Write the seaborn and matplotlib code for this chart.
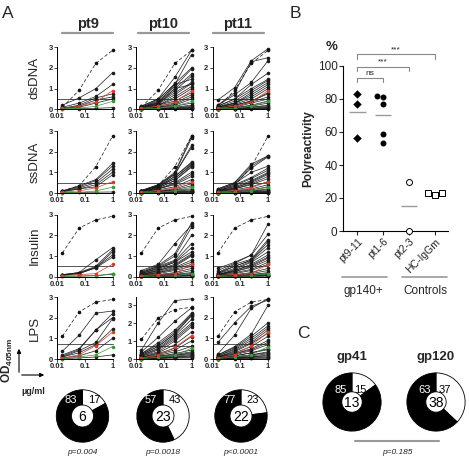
import numpy as np
import pandas as pd
import seaborn as sns

import matplotlib

matplotlib.use("Agg")
import matplotlib.pyplot as plt
from matplotlib.ticker import NullLocator

sns.set_style("ticks")
plt.rcParams["font.family"] = ["Liberation Sans", "DejaVu Sans"]
plt.rcParams["mathtext.fontset"] = "custom"
plt.rcParams["mathtext.rm"] = "Liberation Sans"
plt.rcParams["mathtext.bf"] = "Liberation Sans:bold"

W, H, DPI = 469, 459, 100

# ---- panel A: ELISA curves (OD405nm vs ug/ml) ----
CONC = [1 / 64, 1 / 16, 1 / 4, 1]
PATIENTS = ["pt9", "pt10", "pt11"]
ANTIGENS = ["dsDNA", "ssDNA", "Insulin", "LPS"]
CUTOFFS = [0.5, 0.5, 0.5, 0.75]
CTRL_NAMES = ["ED38", "eiJB40", "mGO53"]

# controls: ED38 (high positive), eiJB40 (low positive), mGO53 (negative)
DSDNA_CTRL = [[0.1, 0.92, 2.22, 2.85], [0.05, 0.15, 0.35, 0.9], [0.02, 0.05, 0.15, 0.38]]
SSDNA_CTRL = [[0.1, 0.35, 1.27, 2.75], [0.05, 0.1, 0.25, 0.55], [0.02, 0.03, 0.1, 0.28]]
INSULIN_CTRL = [[1.15, 2.35, 2.75, 2.92], [0.05, 0.1, 0.15, 0.6], [0.02, 0.03, 0.05, 0.15]]
LPS_CTRL = [[1.1, 2.28, 2.75, 2.88], [0.05, 0.2, 0.65, 1.3], [0.02, 0.1, 0.2, 0.6]]

DSDNA_PT9 = [[0.2, 0.55, 1.0, 1.77], [0.1, 0.3, 0.62, 1.2], [0.05, 0.2, 0.55, 0.75],
             [0.05, 0.15, 0.45, 0.6], [0.05, 0.1, 0.3, 0.5], [0.02, 0.03, 0.05, 0.08]]
DSDNA_PT10 = [[0.15, 0.5, 1.55, 2.85], [0.15, 0.5, 1.2, 2.65], [0.1, 0.45, 1.25, 2.0],
              [0.1, 0.4, 1.1, 1.95], [0.1, 0.35, 1.0, 1.7], [0.1, 0.3, 0.9, 1.6],
              [0.1, 0.3, 1.2, 1.45], [0.1, 0.3, 0.8, 1.3], [0.08, 0.25, 0.7, 1.25],
              [0.08, 0.25, 1.0, 1.2], [0.05, 0.2, 0.6, 1.1], [0.05, 0.2, 0.5, 1.0],
              [0.05, 0.2, 0.4, 0.8], [0.05, 0.15, 0.3, 0.7], [0.05, 0.1, 0.25, 0.6],
              [0.03, 0.1, 0.2, 0.5], [0.03, 0.08, 0.15, 0.3], [0.02, 0.05, 0.1, 0.2],
              [0.02, 0.04, 0.08, 0.15], [0.02, 0.04, 0.06, 0.1], [0.02, 0.03, 0.05, 0.08],
              [0.02, 0.03, 0.04, 0.05], [0.01, 0.02, 0.03, 0.03]]
DSDNA_PT11 = [[0.45, 1.05, 2.35, 2.93], [0.2, 0.8, 2.3, 2.5], [0.2, 0.7, 1.3, 2.35],
              [0.15, 0.5, 1.2, 1.75], [0.15, 0.5, 1.0, 1.45], [0.1, 0.4, 0.9, 1.4],
              [0.1, 0.3, 0.8, 1.3], [0.1, 0.3, 0.7, 1.2], [0.1, 0.3, 0.6, 1.1],
              [0.08, 0.25, 0.5, 1.0], [0.05, 0.2, 0.4, 0.8], [0.05, 0.2, 0.4, 0.75],
              [0.05, 0.15, 0.35, 0.6], [0.05, 0.1, 0.3, 0.5], [0.03, 0.08, 0.2, 0.4],
              [0.03, 0.08, 0.15, 0.3], [0.02, 0.05, 0.1, 0.2], [0.02, 0.05, 0.1, 0.15],
              [0.02, 0.03, 0.06, 0.1], [0.02, 0.03, 0.05, 0.08], [0.02, 0.03, 0.04, 0.05],
              [0.01, 0.02, 0.03, 0.03]]

SSDNA_PT9 = [[0.1, 0.35, 0.65, 1.43], [0.1, 0.3, 0.6, 1.3], [0.1, 0.25, 0.5, 1.15],
             [0.08, 0.2, 0.4, 1.0], [0.05, 0.2, 0.3, 0.88], [0.02, 0.03, 0.04, 0.05]]
SSDNA_PT10 = [[0.12, 0.4, 1.0, 2.75], [0.12, 0.4, 0.95, 2.65], [0.1, 0.35, 0.9, 2.3],
              [0.1, 0.35, 0.9, 2.2], [0.1, 0.3, 0.8, 1.5], [0.1, 0.3, 0.8, 1.45],
              [0.1, 0.3, 0.7, 1.4], [0.08, 0.3, 0.7, 1.35], [0.08, 0.25, 0.6, 1.3],
              [0.08, 0.25, 0.6, 1.25], [0.08, 0.2, 0.5, 1.0], [0.05, 0.2, 0.45, 0.9],
              [0.05, 0.2, 0.4, 0.8], [0.05, 0.15, 0.3, 0.65], [0.05, 0.1, 0.2, 0.45],
              [0.03, 0.08, 0.15, 0.35], [0.03, 0.08, 0.15, 0.2], [0.02, 0.05, 0.1, 0.15],
              [0.02, 0.04, 0.08, 0.1], [0.02, 0.03, 0.06, 0.08], [0.02, 0.03, 0.04, 0.05],
              [0.01, 0.02, 0.03, 0.04], [0.01, 0.02, 0.02, 0.03]]
SSDNA_PT11 = [[0.2, 0.5, 1.4, 1.8], [0.2, 0.5, 1.3, 1.78], [0.15, 0.45, 1.2, 1.75],
              [0.15, 0.45, 1.0, 1.3], [0.1, 0.4, 0.75, 1.2], [0.1, 0.35, 0.7, 1.1],
              [0.1, 0.3, 0.6, 1.0], [0.08, 0.25, 0.55, 0.95], [0.08, 0.25, 0.5, 0.9],
              [0.08, 0.2, 0.45, 0.8], [0.05, 0.2, 0.4, 0.7], [0.05, 0.15, 0.3, 0.55],
              [0.05, 0.1, 0.2, 0.4], [0.03, 0.08, 0.15, 0.3], [0.03, 0.06, 0.1, 0.2],
              [0.02, 0.05, 0.1, 0.15], [0.02, 0.04, 0.08, 0.1], [0.02, 0.03, 0.06, 0.08],
              [0.02, 0.03, 0.04, 0.05], [0.01, 0.02, 0.03, 0.04], [0.01, 0.02, 0.03, 0.03],
              [0.01, 0.01, 0.02, 0.02]]

INSULIN_PT9 = [[0.1, 0.2, 0.82, 1.4], [0.1, 0.2, 0.5, 1.3], [0.08, 0.18, 0.45, 1.2],
               [0.08, 0.15, 0.45, 1.05], [0.06, 0.15, 0.42, 0.95], [0.02, 0.03, 0.05, 0.12]]
INSULIN_PT10 = [[0.3, 0.6, 1.6, 2.5], [0.25, 0.55, 1.1, 2.6], [0.2, 0.5, 1.0, 2.4],
                [0.2, 0.5, 0.8, 2.0], [0.15, 0.45, 0.75, 1.6], [0.15, 0.4, 0.7, 1.4],
                [0.15, 0.4, 0.7, 1.2], [0.1, 0.35, 0.6, 1.1], [0.1, 0.3, 0.55, 1.05],
                [0.1, 0.3, 0.5, 1.0], [0.08, 0.25, 0.45, 0.8], [0.08, 0.2, 0.4, 0.7],
                [0.05, 0.2, 0.35, 0.6], [0.05, 0.15, 0.3, 0.5], [0.05, 0.1, 0.2, 0.4],
                [0.05, 0.1, 0.15, 0.3], [0.03, 0.08, 0.12, 0.2], [0.02, 0.05, 0.1, 0.15],
                [0.02, 0.04, 0.08, 0.1], [0.02, 0.03, 0.06, 0.08], [0.02, 0.03, 0.04, 0.05],
                [0.01, 0.02, 0.03, 0.04], [0.01, 0.02, 0.02, 0.03]]
INSULIN_PT11 = [[0.4, 0.7, 1.05, 2.55], [0.3, 0.65, 1.05, 2.05], [0.2, 0.6, 0.85, 1.8],
                [0.2, 0.5, 0.8, 1.7], [0.15, 0.5, 0.8, 1.55], [0.15, 0.4, 0.75, 1.4],
                [0.1, 0.35, 0.7, 1.2], [0.1, 0.3, 0.6, 1.05], [0.1, 0.3, 0.55, 0.95],
                [0.08, 0.25, 0.5, 0.9], [0.08, 0.25, 0.45, 0.8], [0.05, 0.2, 0.35, 0.7],
                [0.05, 0.15, 0.3, 0.6], [0.05, 0.1, 0.2, 0.4], [0.03, 0.08, 0.15, 0.3],
                [0.03, 0.06, 0.1, 0.2], [0.02, 0.05, 0.1, 0.15], [0.02, 0.04, 0.08, 0.1],
                [0.02, 0.03, 0.06, 0.08], [0.02, 0.03, 0.04, 0.05], [0.01, 0.02, 0.03, 0.04],
                [0.01, 0.02, 0.02, 0.03]]

LPS_PT9 = [[0.38, 1.15, 2.22, 2.32], [0.2, 0.5, 1.4, 2.2], [0.15, 0.45, 1.4, 2.0],
           [0.1, 0.4, 0.8, 1.95], [0.1, 0.3, 0.7, 1.45], [0.05, 0.15, 0.4, 1.0],
           [0.02, 0.05, 0.1, 0.2]]
LPS_PT10 = [[0.5, 2.0, 3.25, 3.35], [0.4, 1.2, 2.1, 2.85], [0.3, 0.9, 1.6, 2.55],
            [0.3, 0.8, 1.5, 2.5], [0.25, 0.7, 1.4, 2.45], [0.25, 0.7, 1.4, 2.4],
            [0.2, 0.6, 1.3, 2.2], [0.2, 0.55, 1.2, 2.0], [0.15, 0.5, 1.1, 1.9],
            [0.15, 0.4, 1.0, 1.8], [0.1, 0.35, 0.8, 1.5], [0.1, 0.3, 0.6, 1.25],
            [0.08, 0.25, 0.5, 1.0], [0.05, 0.2, 0.4, 0.7], [0.05, 0.15, 0.3, 0.5],
            [0.05, 0.15, 0.25, 0.4], [0.03, 0.1, 0.2, 0.35], [0.03, 0.1, 0.2, 0.3],
            [0.02, 0.08, 0.15, 0.25], [0.02, 0.05, 0.1, 0.2], [0.02, 0.05, 0.1, 0.15],
            [0.02, 0.04, 0.08, 0.1], [0.01, 0.03, 0.05, 0.06]]
LPS_PT11 = [[0.8, 1.75, 2.55, 2.85], [0.25, 1.15, 2.45, 2.92], [0.2, 0.6, 1.2, 2.6],
            [0.2, 0.55, 1.1, 1.75], [0.15, 0.5, 1.0, 1.6], [0.15, 0.45, 0.9, 1.5],
            [0.1, 0.4, 0.8, 1.4], [0.1, 0.35, 0.75, 1.25], [0.1, 0.3, 0.6, 1.1],
            [0.08, 0.25, 0.5, 0.9], [0.08, 0.25, 0.45, 0.8], [0.05, 0.2, 0.4, 0.7],
            [0.05, 0.15, 0.3, 0.5], [0.05, 0.15, 0.3, 0.45], [0.03, 0.1, 0.2, 0.35],
            [0.03, 0.1, 0.2, 0.3], [0.02, 0.08, 0.15, 0.25], [0.02, 0.05, 0.1, 0.2],
            [0.02, 0.05, 0.1, 0.15], [0.02, 0.04, 0.08, 0.1], [0.01, 0.03, 0.05, 0.06],
            [0.01, 0.02, 0.03, 0.04]]

# donuts: % polyreactive, number of clones, p-value
A_POLY_PCT = [83, 57, 77]
A_N_CLONES = [6, 23, 22]
A_PVALUES = ["p=0.004", "p=0.0018", "p<0.0001"]

# ---- panel B ----
B_CATS = ["pt9-11", "pt1-6", "pt2-3", "HC-IgGm"]
B_PT9_11 = [83, 77, 56.5]
B_PT1_6 = [82, 81.5, 77, 59, 53.5]
B_PT2_3 = [30, 0]
B_HC_IGGM = [23, 22, 23]

# ---- panel C ----
C_NAMES = ["gp41", "gp120"]
C_POLY_PCT = [85, 63]
C_N_CLONES = [13, 38]
C_PVALUE = "p=0.185"

KIND_ORDER = ["mAb", "ED38", "mGO53", "eiJB40"]
KIND_COLORS = {"mAb": "#1a1a1a", "ED38": "#111111", "mGO53": "#3a9a3a", "eiJB40": "#d0402c"}
KIND_DASHES = {"mAb": "", "ED38": (5, 3), "mGO53": "", "eiJB40": ""}
KIND_MARKERS = {k: "o" for k in KIND_ORDER}

fig = plt.figure(figsize=(W / DPI, H / DPI), dpi=DPI)


def px_axes(left, top, width, height):
    return fig.add_axes([left / W, 1 - (top + height) / H, width / W, height / H])


over = px_axes(0, 0, W, H)
over.set_xlim(0, W)
over.set_ylim(H, 0)
over.axis("off")


def panel_frame(ctrl, mabs):
    recs = []
    for name, vals in zip(CTRL_NAMES, ctrl):
        for c, v in zip(CONC, vals):
            recs.append((name, name, c, v))
    for i, vals in enumerate(mabs):
        for c, v in zip(CONC, vals):
            recs.append((f"mAb{i}", "mAb", c, v))
    return pd.DataFrame(recs, columns=["clone", "kind", "conc", "od"])


A_CTRL = [DSDNA_CTRL, SSDNA_CTRL, INSULIN_CTRL, LPS_CTRL]
A_MABS = [
    [DSDNA_PT9, DSDNA_PT10, DSDNA_PT11],
    [SSDNA_PT9, SSDNA_PT10, SSDNA_PT11],
    [INSULIN_PT9, INSULIN_PT10, INSULIN_PT11],
    [LPS_PT9, LPS_PT10, LPS_PT11],
]

col_left = [57, 136, 212.5]
col_w = 55.5
row_top = [47.3, 131, 214.7, 297]
row_h = 62

for r, antigen in enumerate(ANTIGENS):
    for c, pt in enumerate(PATIENTS):
        ax = px_axes(col_left[c], row_top[r], col_w, row_h)
        d = panel_frame(A_CTRL[r], A_MABS[r][c])
        ax.axhline(CUTOFFS[r], color="#555555", lw=0.7, zorder=0.5)
        sns.lineplot(
            data=d, x="conc", y="od", hue="kind", style="kind", units="clone",
            estimator=None, hue_order=KIND_ORDER, style_order=KIND_ORDER,
            palette=KIND_COLORS, dashes=KIND_DASHES, markers=KIND_MARKERS,
            markersize=2.6, markeredgewidth=0, linewidth=0.5, legend=False,
            sort=False, ax=ax,
        )
        for ln in ax.lines:
            ln.set_clip_on(False)
        ax.set_xscale("log")
        ax.set_xlim(0.01, 1)
        top = 3.45 if (antigen == "LPS" and pt == "pt10") else 3.0
        ax.set_ylim(0, top)
        ax.set_xticks([0.01, 0.1, 1], labels=["0.01", "0.1", "1"],
                      fontsize=5.5, fontweight="bold")
        ax.set_yticks([0, 1, 2, 3], labels=["0", "1", "2", "3"],
                      fontsize=5.5, fontweight="bold")
        ax.xaxis.set_minor_locator(NullLocator())
        ax.tick_params(length=2, width=0.6, pad=1)
        ax.set_xlabel("")
        ax.set_ylabel("")
        sns.despine(ax=ax)
        for s in ["left", "bottom"]:
            ax.spines[s].set_linewidth(0.7)
            ax.spines[s].set_color("black")
    over.text(35, row_top[r] + row_h / 2, antigen, rotation=90, ha="center",
              va="center", fontsize=9.5)

# column headers
hdr_cx = [87.5, 163.5, 238]
for cx, pt in zip(hdr_cx, PATIENTS):
    over.text(cx, 24, pt, ha="center", va="center", fontsize=10.5, fontweight="bold")
    over.plot([cx - 25.5, cx + 25.5], [33, 33], color="#999999", lw=1.6)


def donut(cx, cy, r, black_pct, n, ring_w, lbl_x, label_y, num_size, lbl_size):
    ax = px_axes(cx - r, cy - r, 2 * r, 2 * r)
    ax.pie([100 - black_pct, black_pct], colors=["white", "black"], startangle=90,
           counterclock=False, radius=1,
           wedgeprops=dict(width=ring_w, edgecolor="black", linewidth=0.6))
    ax.set_xlim(-1.03, 1.03)
    ax.set_ylim(-1.03, 1.03)
    ax.text(lbl_x[0], label_y, str(black_pct), color="white", ha="center", va="center",
            fontsize=lbl_size)
    ax.text(lbl_x[1], label_y, str(100 - black_pct), color="black", ha="center",
            va="center", fontsize=lbl_size)
    ax.text(0, -0.02, str(n), color="black", ha="center", va="center", fontsize=num_size)


donut_cx = [82.5, 163, 241]
for cx, pct, n, p in zip(donut_cx, A_POLY_PCT, A_N_CLONES, A_PVALUES):
    donut(cx, 416, 27, pct, n, 0.58, (-0.45, 0.45), 0.62, 10, 8)
    over.text(cx, 452, p, ha="center", va="center", fontsize=6, style="italic")

# axis hint arrows
over.annotate("", xy=(19, 346), xytext=(19, 375),
              arrowprops=dict(arrowstyle="-|>", lw=0.8, color="black", mutation_scale=6))
over.annotate("", xy=(47, 375), xytext=(19, 375),
              arrowprops=dict(arrowstyle="-|>", lw=0.8, color="black", mutation_scale=6))
over.text(7, 360, r"$\mathbf{OD_{405nm}}$", rotation=90, ha="center", va="center",
          fontsize=8.5)
over.text(33, 391, "µg/ml", ha="center", va="center", fontsize=6.5, fontweight="bold")

# ---- panel B ----
axB = px_axes(343, 66, 105, 165)
b_groups = [B_PT9_11, B_PT1_6, B_PT2_3, B_HC_IGGM]
b_df = pd.DataFrame({
    "group": np.repeat(B_CATS, [len(g) for g in b_groups]),
    "value": np.concatenate(b_groups),
})
b_marker = ["D", "o", "o", "s"]
b_face = ["black", "black", "white", "white"]
for cat, mk, fc in zip(B_CATS, b_marker, b_face):
    sub = b_df[b_df["group"] == cat]
    sns.swarmplot(data=sub, x="group", y="value", order=B_CATS, marker=mk,
                  color=fc, edgecolor="black", linewidth=0.7 if fc == "white" else 0,
                  size=4.3, ax=axB, clip_on=False)
for i, g in enumerate(b_groups):
    axB.hlines(np.mean(g), i - 0.32, i + 0.32, color="#999999", lw=1.0)
axB.set_xlim(-0.55, 3.5)
axB.set_ylim(0, 100)
axB.set_yticks(range(0, 101, 20))
axB.tick_params(axis="y", labelsize=8.5, length=3, width=0.8, pad=1)
axB.tick_params(axis="x", length=3, width=0.8, pad=1)
axB.set_xticks(range(4))
axB.set_xticklabels(B_CATS, rotation=45, ha="right", va="top",
                    rotation_mode="anchor", fontsize=7.5)
axB.set_xlabel("")
axB.set_ylabel("")
sns.despine(ax=axB)
for s in ["left", "bottom"]:
    axB.spines[s].set_linewidth(0.8)
    axB.spines[s].set_color("black")

# significance brackets
for x1, yb, lab in [(3, 107, "***"), (2, 99.5, "***"), (1, 92.5, "ns")]:
    axB.plot([0, 0, x1, x1], [yb - 2.5, yb, yb, yb - 2.5], color="#888888", lw=0.8,
             clip_on=False)
    axB.text(x1 / 2, yb + 0.8, lab, ha="center", va="bottom", fontsize=6)

over.text(332, 47, "%", ha="center", va="center", fontsize=9.5, fontweight="bold")
over.text(308, 149, "Polyreactivity", rotation=90, ha="center", va="center",
          fontsize=8.5, fontweight="bold")
over.plot([342, 387], [277, 277], color="#999999", lw=1.2)
over.plot([402, 447], [277, 277], color="#999999", lw=1.2)
over.text(363, 291, "gp140+", ha="center", va="center", fontsize=8.5)
over.text(425, 291, "Controls", ha="center", va="center", fontsize=8.5)

# ---- panel C ----
c_cx = [352, 436]
for cx, name, pct, n in zip(c_cx, C_NAMES, C_POLY_PCT, C_N_CLONES):
    over.text(cx, 357, name, ha="center", va="center", fontsize=9.5, fontweight="bold")
    donut(cx, 402, 30, pct, n, 0.65, (-0.4, 0.3), 0.4, 10, 8)
over.plot([355, 439], [441, 441], color="#999999", lw=1.5)
over.text(397, 452, C_PVALUE, ha="center", va="center", fontsize=6, style="italic")

# panel letters
for x, y, s in [(8, 13, "A"), (295, 13, "B"), (303, 334, "C")]:
    over.text(x, y, s, ha="center", va="center", fontsize=12.5)

fig.savefig("out.png", dpi=DPI, facecolor="white")
